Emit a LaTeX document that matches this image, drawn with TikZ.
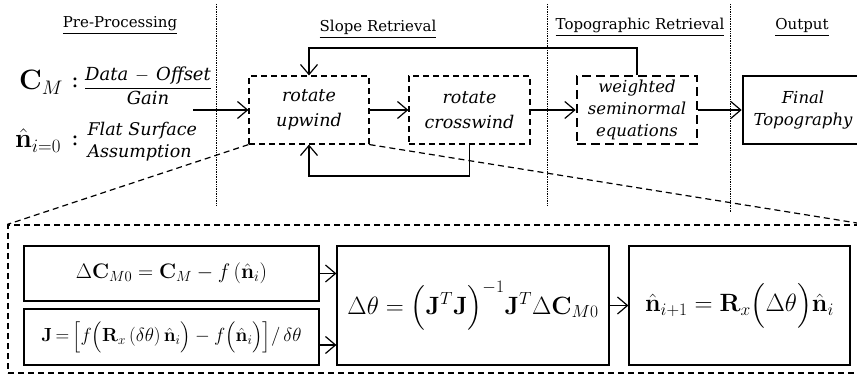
\RequirePackage{fix-cm}
\documentclass[tikz,border=0pt]{standalone}
\usepackage{amsmath}
\usepackage[no-math]{fontspec}
\setmainfont{DejaVu Serif}
\usetikzlibrary{arrows.meta, positioning, calc}

\begin{document}
\begin{tikzpicture}[x=1pt, y=-1pt,
		arr/.style={-{Straight Barb[length=10pt,width=17pt]}, line width=1.2pt},
		dbox/.style={draw, line width=1.2pt, dash pattern=on 6pt off 4pt, minimum width=120pt, minimum height=68pt, align=center, font=\fontsize{17.5}{25}\selectfont\itshape},
		mbox/.style={draw, line width=1.2pt, inner sep=0pt},
		head/.style={anchor=base, font=\fontsize{15}{17}\selectfont}]
		\clip (0,0) rectangle (857,377);
		% stage headers and separators
		\node[head] (hpre) at (120,28) {\underline{Pre-Processing}};
		\node[head] (hslope) at (378,32) {\underline{Slope Retrieval}};
		\node[head] (htopo) at (640,30) {\underline{Topographic Retrieval}};
		\node[head] (hout) at (802,30) {\underline{Output}};
		\foreach \x/\yb in {216/205, 547/205, 730/213}
			\draw[densely dotted, line width=0.7pt] (\x,4) -- (\x,\yb);
		% inputs
		\node[anchor=base, font=\fontsize{28}{30}\selectfont, inner sep=1pt] (cm) at (41,90) {$\mathbf{C}_M$};
		\node[font=\fontsize{22}{26}\selectfont] (cmcol) at (75,83) {:};
		\node[font=\fontsize{18}{20}\selectfont, inner sep=1pt] (cmfrac) at (148,86) {$\dfrac{\textit{Data}\,-\,\textit{Offset}}{\textit{Gain}}$};
		\node[anchor=base, font=\fontsize{27}{30}\selectfont, inner sep=1pt] (nz) at (38,148) {$\hat{\mathbf{n}}_{i=0}$};
		\node[font=\fontsize{22}{26}\selectfont] (nzcol) at (75,141) {:};
		\node[anchor=west, align=left, font=\fontsize{17.5}{22}\selectfont\itshape] (flat) at (84,142) {Flat Surface\\Assumption};
		% upper chain
		\coordinate (in) at (193,110);
		\node[dbox] (upw) at (309,110) {rotate\\upwind};
		\node[dbox, minimum width=121pt] (crw) at (469.5,110) {rotate\\crosswind};
		\node[dbox, line width=2.6pt, dash pattern=on 9pt off 5pt, font=\fontsize{16.5}{22}\selectfont\itshape] (wse) at (637,110) {weighted\\seminormal\\equations};
		\node[draw, line width=2.6pt, minimum width=130pt, minimum height=68pt] (fin) at (808,110) {};
		\node[align=center, font=\fontsize{16.5}{22}\selectfont\itshape] (fintxt) at (803,110) {Final\\Topography};
		\draw[arr] (in) -- (upw);
		\draw[arr] (upw) -- (crw);
		\draw[arr] (crw) -- (wse);
		\draw[arr] (wse) -- (fin);
		\coordinate (topl) at (309,48);
		\coordinate (botl) at (309,176);
		\draw[arr] (wse.north) |- (topl) -- (upw.north);
		\draw[arr] (crw.south) |- (botl) -- (upw.south);
		% expanded view of rotate upwind
		\node[draw, line width=1.2pt, dash pattern=on 6pt off 4pt, minimum width=857pt, minimum height=148pt] (panel) at (436.5,299) {};
		\draw[line width=1.2pt, dash pattern=on 6pt off 4pt] (upw.south west) -- (panel.north west);
		\draw[line width=1.2pt, dash pattern=on 6pt off 4pt] (upw.south east) -- (panel.north east);
		\node[mbox, minimum width=295pt, minimum height=55pt, font=\fontsize{21}{24}\selectfont] (dc) at (171.5,273.5) {$\Delta\mathbf{C}_{M0}=\mathbf{C}_M-f\left(\hat{\mathbf{n}}_i\right)$};
		\node[mbox, minimum width=295pt, minimum height=56pt, font=\fontsize{19}{22}\selectfont] (jac) at (171.5,337) {$\mathbf{J}\,{=}\,\Bigl[f\Bigl(\mathbf{R}_x\left(\delta\theta\right)\hat{\mathbf{n}}_i\Bigr)-f\Bigl(\hat{\mathbf{n}}_i\Bigr)\Bigr]/\,\delta\theta$};
		\node[mbox, minimum width=272pt, minimum height=119pt, font=\fontsize{25}{28}\selectfont] (dth) at (473,305.5) {$\Delta\theta=\Bigl(\mathbf{J}^T\mathbf{J}\Bigr)^{-1}\mathbf{J}^T\Delta\mathbf{C}_{M0}$};
		\node[mbox, minimum width=221pt, minimum height=119pt, font=\fontsize{25}{28}\selectfont] (nnx) at (739.5,305.5) {$\hat{\mathbf{n}}_{i+1}=\mathbf{R}_x\Bigl(\Delta\theta\Bigr)\hat{\mathbf{n}}_i$};
		\draw[arr] (dc.east) -- (dc.east -| dth.west);
		\draw[arr] ([yshift=-8pt]jac.east) -- ([yshift=-8pt]jac.east -| dth.west);
		\draw[arr] (dth) -- (nnx);
	\end{tikzpicture}
\end{document}
